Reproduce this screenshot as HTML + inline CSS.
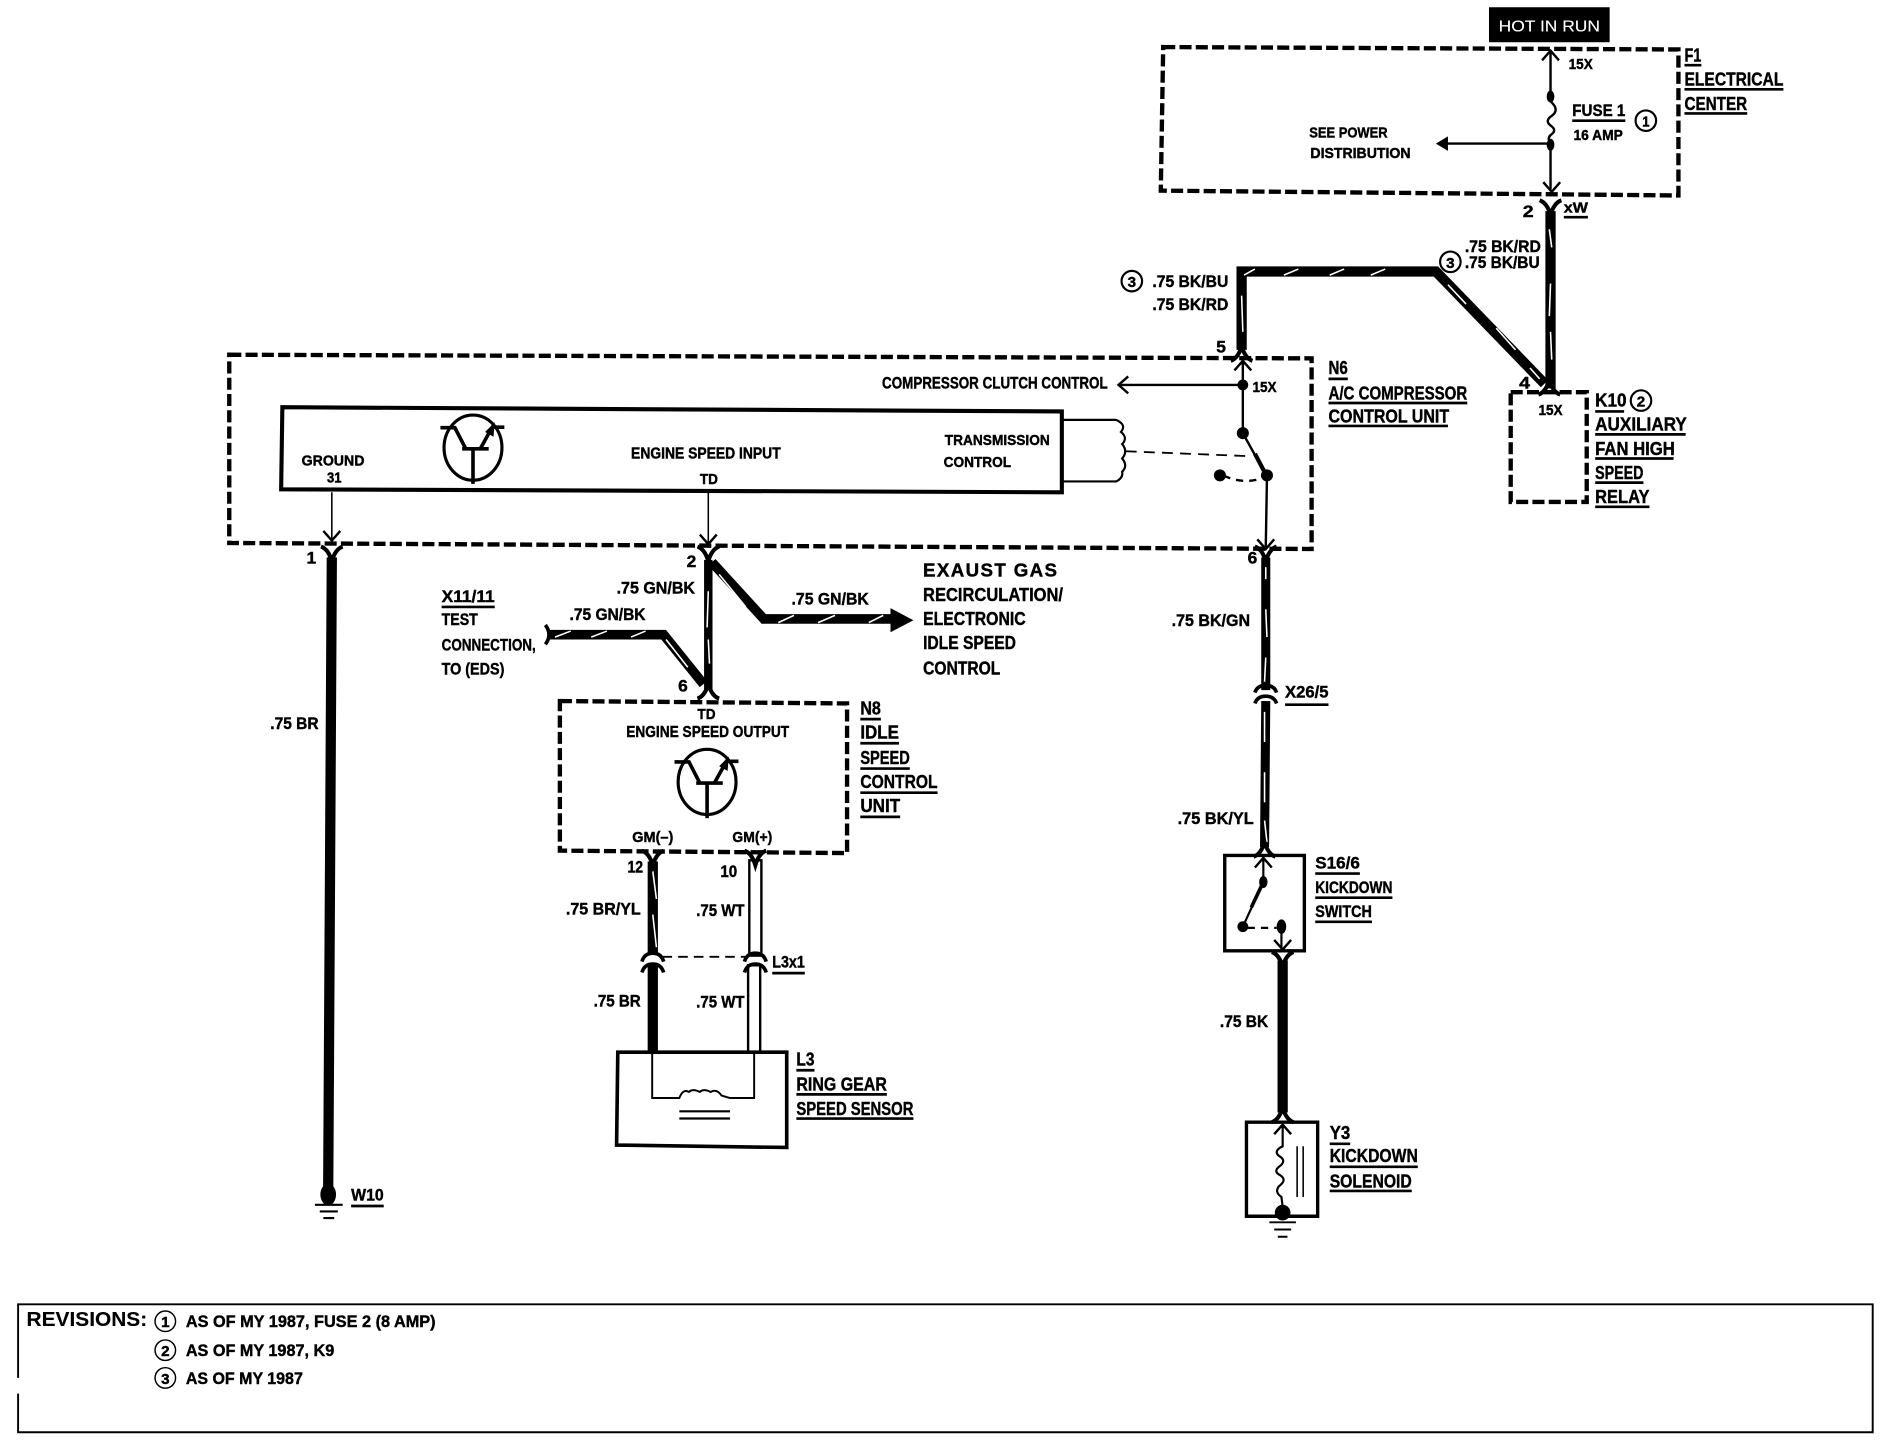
<!DOCTYPE html>
<html><head><meta charset="utf-8"><style>
html,body{margin:0;padding:0;background:#fff}
svg{display:block;width:1892px;height:1456px}
text{font-family:"Liberation Sans",sans-serif;font-weight:bold;fill:#000;stroke:#000;stroke-width:.35;font-size:14px}
.s{font-size:12px}.m{font-size:14px}.l{font-size:15.5px}
.t{fill:none;stroke:#000;stroke-width:2}
.d{fill:none;stroke:#000;stroke-width:3.6;stroke-dasharray:10 3.5}
.w{fill:none;stroke:#000;stroke-width:8.5;stroke-linejoin:miter}
.tr{fill:none;stroke:#fff;stroke-width:1.3}
.u{stroke:#000;stroke-width:2.2}
.c{fill:#fff;stroke:#000;stroke-width:1.8}
</style></head><body>
<svg xmlns="http://www.w3.org/2000/svg" viewBox="0 0 1568 1206.7" preserveAspectRatio="none">
<defs>
<path id="yd" d="M-9,-7 Q-3,-5 0,5 Q3,-5 9,-7" fill="none" stroke="#000" stroke-width="3.4"/>
<path id="yu" d="M-9,7 Q-3,5 0,-5 Q3,5 9,7" fill="none" stroke="#000" stroke-width="3.4"/>
<path id="chu" d="M-7,8 L0,0 L7,8 M0,0 V3" fill="none" stroke="#000" stroke-width="2"/>
<path id="chd" d="M-7,-8 L0,0 L7,-8" fill="none" stroke="#000" stroke-width="2"/>
<g id="tx">
<ellipse cx="392" cy="371" rx="24" ry="27" fill="none" stroke="#000" stroke-width="2.6"/>
<path d="M365,354.500 H377 L386,372 M383,372 H405 M392,372 V401 M398,372 L408,354 M407,354 H418" fill="none" stroke="#000" stroke-width="3"/>
<path d="M410,350 L402,358 L409,362 Z" fill="#000"/>
</g>
</defs>

<!-- F1 -->
<rect x="1234" y="6" width="100" height="29" fill="#000"/>
<text x="1242" y="26" textLength="84" lengthAdjust="spacingAndGlyphs" style="fill:#fff;stroke:#fff;stroke-width:.1;font-weight:normal;font-size:13px">HOT IN RUN</text>
<path class="d" d="M964,39 L1391,41 L1391,162 L962,158 Z"/>
<path class="t" d="M1285,42 V80 M1285,120 V157"/>
<use href="#chu" x="1285" y="42"/><use href="#chd" x="1286" y="159"/>
<ellipse cx="1285" cy="80" rx="3.200" ry="5" fill="#000"/><ellipse cx="1285" cy="120" rx="3.200" ry="5" fill="#000"/>
<path class="t" d="M1285,84 Q1293,91 1286,96 Q1280,100 1285,104 Q1291,108 1285,112 Q1282,115 1285,118"/>
<path class="t" d="M1285,119 H1198"/><path d="M1190,119 L1200,113 V125 Z" fill="#000"/>
<text class="m" x="1300" y="57" textLength="20" lengthAdjust="spacingAndGlyphs" style="font-size:12px">15X</text>
<text class="m" x="1303" y="96" textLength="44" lengthAdjust="spacingAndGlyphs">FUSE 1</text><line class="u" x1="1303" y1="100" x2="1347" y2="100"/>
<text class="s" x="1304" y="116" textLength="41" lengthAdjust="spacingAndGlyphs">16 AMP</text>
<circle class="c" cx="1364" cy="100" r="8.500"/><text class="s" x="1361" y="105" textLength="6" lengthAdjust="spacingAndGlyphs">1</text>
<text class="s" x="1085" y="114" textLength="65" lengthAdjust="spacingAndGlyphs">SEE POWER</text>
<text class="s" x="1086" y="131" textLength="83" lengthAdjust="spacingAndGlyphs">DISTRIBUTION</text>
<text class="l" x="1396" y="51" textLength="14" lengthAdjust="spacingAndGlyphs">F1</text><line class="u" x1="1396" y1="54" x2="1410" y2="54"/>
<text class="l" x="1396" y="71" textLength="82" lengthAdjust="spacingAndGlyphs">ELECTRICAL</text><line class="u" x1="1396" y1="74" x2="1478" y2="74"/>
<text class="l" x="1396" y="91" textLength="52" lengthAdjust="spacingAndGlyphs">CENTER</text><line class="u" x1="1396" y1="94" x2="1448" y2="94"/>

<!-- wires top right -->
<path class="w" d="M1285,175 V322"/>
<use href="#yd" x="1285" y="173"/>
<path class="tr" d="M1284,190 L1286,205 M1285,235 L1284,262 M1285,275 L1286,298"/>
<text class="m" x="1262" y="180" textLength="9" lengthAdjust="spacingAndGlyphs">2</text>
<text class="s" x="1296" y="176" textLength="20" lengthAdjust="spacingAndGlyphs">xW</text><line class="u" x1="1296" y1="180" x2="1316" y2="180"/>
<path class="w" d="M1029,290 V225 H1190 L1280,318"/>
<use href="#yu" x="1029" y="292"/><use href="#yu" x="1284" y="320"/>
<path class="tr" d="M1031,228 L1040,223 M1064,228 L1076,223 M1102,228 L1114,223 M1136,228 L1148,223 M1200,236 L1215,252 M1240,272 L1256,290 M1268,305 L1276,314 M1029,245 L1030,275"/>
<text class="m" x="1214" y="209" textLength="63" lengthAdjust="spacingAndGlyphs">.75 BK/RD</text>
<text class="m" x="1214" y="222" textLength="62" lengthAdjust="spacingAndGlyphs">.75 BK/BU</text>
<circle class="c" cx="1202" cy="217" r="8.500"/><text class="s" x="1198.500" y="222" textLength="7" lengthAdjust="spacingAndGlyphs">3</text>
<circle class="c" cx="938" cy="233" r="8.500"/><text class="s" x="934.500" y="238" textLength="7" lengthAdjust="spacingAndGlyphs">3</text>
<text class="m" x="955" y="238" textLength="63" lengthAdjust="spacingAndGlyphs">.75 BK/BU</text>
<text class="m" x="955" y="257" textLength="63" lengthAdjust="spacingAndGlyphs">.75 BK/RD</text>
<text class="m" x="1008" y="292" textLength="8" lengthAdjust="spacingAndGlyphs">5</text>

<!-- K10 -->
<path class="d" d="M1252,325 H1315 V416 H1252 Z"/>
<text class="m" x="1259" y="322" textLength="9" lengthAdjust="spacingAndGlyphs">4</text>
<text class="s" x="1275" y="344" textLength="20" lengthAdjust="spacingAndGlyphs">15X</text>
<text class="l" x="1322" y="337" textLength="26" lengthAdjust="spacingAndGlyphs">K10</text><line class="u" x1="1322" y1="341" x2="1346" y2="341"/>
<circle class="c" cx="1360" cy="332" r="8.500"/><text class="s" x="1356.500" y="337" textLength="7" lengthAdjust="spacingAndGlyphs">2</text>
<text class="l" x="1322" y="357" textLength="76" lengthAdjust="spacingAndGlyphs">AUXILIARY</text><line class="u" x1="1322" y1="360" x2="1397" y2="360"/>
<text class="l" x="1322" y="377" textLength="66" lengthAdjust="spacingAndGlyphs">FAN HIGH</text><line class="u" x1="1322" y1="380" x2="1387" y2="380"/>
<text class="l" x="1322" y="397" textLength="40" lengthAdjust="spacingAndGlyphs">SPEED</text><line class="u" x1="1322" y1="400" x2="1362" y2="400"/>
<text class="l" x="1322" y="417" textLength="45" lengthAdjust="spacingAndGlyphs">RELAY</text><line class="u" x1="1322" y1="420" x2="1367" y2="420"/>

<!-- N6 -->
<path class="d" d="M190,294 L1087,297 L1087,455 L190,450 Z"/>
<path d="M234,337.500 L880,341 L880,408 L233,405.500 Z" fill="none" stroke="#000" stroke-width="3.400"/>
<use href="#tx"/>
<text class="s" x="250" y="386" textLength="52" lengthAdjust="spacingAndGlyphs">GROUND</text>
<text class="s" x="271" y="400" textLength="12" lengthAdjust="spacingAndGlyphs">31</text>
<text class="m" x="523" y="380" textLength="124" lengthAdjust="spacingAndGlyphs" style="font-size:13px">ENGINE SPEED INPUT</text>
<text class="s" x="580" y="401" textLength="15" lengthAdjust="spacingAndGlyphs">TD</text>
<text class="s" x="783" y="369" textLength="87" lengthAdjust="spacingAndGlyphs">TRANSMISSION</text>
<text class="s" x="782" y="387" textLength="56" lengthAdjust="spacingAndGlyphs">CONTROL</text>
<path class="t" d="M275,408 V447 M587,408 V450" style="stroke-width:1.300"/>
<use href="#chd" x="275" y="448"/><use href="#chd" x="587" y="451"/>
<path class="t" d="M881,348 H925 Q934,352 929,358 Q935,363 930,368 Q935,374 930,380 Q935,386 930,391 Q931,396 925,399 H881" style="stroke-width:1.800"/>
<path d="M933,374 L1034,378" fill="none" stroke="#000" stroke-width="1.500" stroke-dasharray="9 6"/>
<text class="m" x="731" y="322" textLength="187" lengthAdjust="spacingAndGlyphs" style="font-size:13.500px">COMPRESSOR CLUTCH CONTROL</text>
<path class="t" d="M1030,298 V359 M1030,319 H928 M1030,359 L1050,395 M1050,395 L1049,454"/>
<path d="M1040,376 L1050,395" stroke="#000" stroke-width="3.500"/>
<use href="#chu" x="1030" y="299"/>
<path d="M935,312 L927,319 L935,326" fill="none" stroke="#000" stroke-width="2"/>
<use href="#chd" x="1049" y="455"/>
<circle cx="1030" cy="319" r="4.500"/><circle cx="1030" cy="359" r="5"/><circle cx="1050" cy="394" r="5"/>
<circle cx="1011" cy="394" r="5"/>
<path d="M1014,394 Q1030,402 1047,396" fill="none" stroke="#000" stroke-width="2" stroke-dasharray="6 5"/>
<text class="s" x="1038" y="325" textLength="20" lengthAdjust="spacingAndGlyphs">15X</text>
<text class="l" x="1101" y="310" textLength="16" lengthAdjust="spacingAndGlyphs">N6</text><line class="u" x1="1101" y1="314" x2="1117" y2="314"/>
<text class="l" x="1101" y="331" textLength="115" lengthAdjust="spacingAndGlyphs">A/C COMPRESSOR</text><line class="u" x1="1101" y1="334" x2="1216" y2="334"/>
<text class="l" x="1101" y="350" textLength="100" lengthAdjust="spacingAndGlyphs">CONTROL UNIT</text><line class="u" x1="1101" y1="353" x2="1200" y2="353"/>

<!-- ground wire -->
<path class="w" d="M275,462 L272,985"/>
<use href="#yd" x="275" y="460"/>
<text class="m" x="254" y="467" textLength="8" lengthAdjust="spacingAndGlyphs">1</text>
<text class="m" x="224" y="604" textLength="40" lengthAdjust="spacingAndGlyphs">.75 BR</text>
<ellipse cx="272" cy="990" rx="6.500" ry="9"/>
<path d="M261,998.500 H284 M265,1004 H280 M268,1009.500 H277" stroke="#000" stroke-width="1.800"/>
<text class="m" x="291" y="995" textLength="27" lengthAdjust="spacingAndGlyphs">W10</text><line class="u" x1="291" y1="999.500" x2="318" y2="999.500"/>

<!-- center wires -->
<path class="w" d="M587,464 V572" style="stroke-width:7"/>
<use href="#yd" x="587" y="460"/><use href="#yu" x="587" y="572"/>
<path class="w" d="M590,466 L633,513 H740" style="stroke-width:8"/>
<path d="M757,514 L738,504 V524 Z" fill="#000"/>
<path class="tr" d="M596,476 L618,503 M645,516 L658,510 M678,516 L692,510 M720,516 L732,510 M587,490 L586,520 M587,530 L588,550"/>
<path class="w" d="M455,526 H550 L583,567" style="stroke-width:8"/>
<path d="M452,518 Q458,526 452,534" fill="none" stroke="#000" stroke-width="3"/>
<path class="tr" d="M460,528 L473,523 M490,528 L503,523 M523,528 L535,523 M552,530 L570,553"/>
<text class="m" x="511" y="492" textLength="65" lengthAdjust="spacingAndGlyphs">.75 GN/BK</text>
<text class="m" x="472" y="514" textLength="63" lengthAdjust="spacingAndGlyphs">.75 GN/BK</text>
<text class="m" x="656" y="501" textLength="64" lengthAdjust="spacingAndGlyphs">.75 GN/BK</text>
<text class="m" x="569" y="470" textLength="8" lengthAdjust="spacingAndGlyphs">2</text>
<text class="m" x="562" y="573" textLength="8" lengthAdjust="spacingAndGlyphs">6</text>
<text class="l" x="366" y="499" textLength="44" lengthAdjust="spacingAndGlyphs" style="font-size:14px">X11/11</text><line class="u" x1="366" y1="503" x2="410" y2="503"/>
<text class="m" x="366" y="518" textLength="30" lengthAdjust="spacingAndGlyphs">TEST</text>
<text class="m" x="366" y="539" textLength="78" lengthAdjust="spacingAndGlyphs">CONNECTION,</text>
<text class="m" x="366" y="559" textLength="52" lengthAdjust="spacingAndGlyphs">TO (EDS)</text>
<text class="l" x="765" y="478" textLength="111" lengthAdjust="spacing">EXAUST GAS</text>
<text class="l" x="765" y="498" textLength="116" lengthAdjust="spacingAndGlyphs">RECIRCULATION/</text>
<text class="l" x="765" y="518" textLength="85" lengthAdjust="spacingAndGlyphs">ELECTRONIC</text>
<text class="l" x="765" y="538" textLength="77" lengthAdjust="spacingAndGlyphs">IDLE SPEED</text>
<text class="l" x="765" y="559" textLength="64" lengthAdjust="spacingAndGlyphs">CONTROL</text>

<!-- N8 -->
<path class="d" d="M464,581 L702,583 L702,707 L464,705 Z"/>
<text class="s" x="578" y="596" textLength="15" lengthAdjust="spacingAndGlyphs">TD</text>
<text class="m" x="519" y="611" textLength="135" lengthAdjust="spacingAndGlyphs" style="font-size:13px">ENGINE SPEED OUTPUT</text>
<use href="#tx" x="194" y="277"/>
<text class="s" x="524" y="698" textLength="34" lengthAdjust="spacingAndGlyphs">GM(–)</text>
<text class="s" x="607" y="698" textLength="33" lengthAdjust="spacingAndGlyphs">GM(+)</text>
<text class="l" x="713" y="592" textLength="17" lengthAdjust="spacingAndGlyphs">N8</text><line class="u" x1="713" y1="596" x2="730" y2="596"/>
<text class="l" x="713" y="612" textLength="32" lengthAdjust="spacingAndGlyphs">IDLE</text><line class="u" x1="713" y1="616" x2="745" y2="616"/>
<text class="l" x="713" y="633" textLength="41" lengthAdjust="spacingAndGlyphs">SPEED</text><line class="u" x1="713" y1="637" x2="754" y2="637"/>
<text class="l" x="713" y="653" textLength="64" lengthAdjust="spacingAndGlyphs">CONTROL</text><line class="u" x1="713" y1="657" x2="777" y2="657"/>
<text class="l" x="713" y="673" textLength="33" lengthAdjust="spacingAndGlyphs">UNIT</text><line class="u" x1="713" y1="677" x2="746" y2="677"/>

<!-- lower wires L3 -->
<path class="w" d="M541,714 V790 M541,798 V873"/>
<path class="tr" d="M541,722 L544,745 M541,758 L544,785"/>
<rect x="621" y="713" width="10" height="79" fill="#fff" stroke="#000" stroke-width="2"/>
<rect x="620" y="800" width="10" height="73" fill="#fff" stroke="#000" stroke-width="2"/>
<use href="#yd" x="541" y="712"/><use href="#yd" x="626" y="712"/>
<path d="M532,797 Q534,790 541,790 Q548,790 550,797 M617,797 Q619,790 626,790 Q633,790 635,797 M532,806 Q534,799 541,799 Q548,799 550,806 M617,806 Q619,799 626,799 Q633,799 635,806" fill="none" stroke="#000" stroke-width="3"/>
<path d="M549,793 H618" stroke="#000" stroke-width="1.500" stroke-dasharray="8 5"/>
<text class="m" x="520" y="723" textLength="13" lengthAdjust="spacingAndGlyphs">12</text>
<text class="m" x="597" y="727" textLength="14" lengthAdjust="spacingAndGlyphs">10</text>
<text class="m" x="469" y="758" textLength="62" lengthAdjust="spacingAndGlyphs">.75 BR/YL</text>
<text class="m" x="577" y="759" textLength="40" lengthAdjust="spacingAndGlyphs">.75 WT</text>
<text class="m" x="492" y="834" textLength="39" lengthAdjust="spacingAndGlyphs">.75 BR</text>
<text class="m" x="577" y="835" textLength="40" lengthAdjust="spacingAndGlyphs">.75 WT</text>
<text class="m" x="640" y="802" textLength="27" lengthAdjust="spacingAndGlyphs">L3x1</text><line class="u" x1="640" y1="806.500" x2="667" y2="806.500"/>
<path d="M512,872 H652 V951 L511,949 Z" fill="#fff" stroke="#000" stroke-width="3"/>
<path class="t" d="M540.500,873 V910 H563 Q566,902 571,905 Q574,902 580,905 Q583,902 589,905 Q594,902 598,908 L605,910 H625 V873" style="stroke-width:1.600"/>
<path d="M563,921 H605 M563,927 H605" stroke="#000" stroke-width="1.800"/>
<text class="l" x="660" y="883" textLength="15" lengthAdjust="spacingAndGlyphs">L3</text><line class="u" x1="660" y1="887" x2="675" y2="887"/>
<text class="l" x="660" y="904" textLength="75" lengthAdjust="spacingAndGlyphs">RING GEAR</text><line class="u" x1="660" y1="907" x2="735" y2="907"/>
<text class="l" x="660" y="924" textLength="97" lengthAdjust="spacingAndGlyphs">SPEED SENSOR</text><line class="u" x1="660" y1="927" x2="757" y2="927"/>

<!-- right column -->
<path class="w" d="M1049,462 V572 M1049,581 L1048,702" style="stroke-width:7.500"/>
<use href="#yd" x="1049" y="460"/>
<path class="tr" d="M1049,470 V480 M1049,505 L1050,528 M1049,545 L1048,565 M1048,590 V615 M1048,640 V665 M1048,680 L1050,698"/>
<path d="M1040,574 Q1042,568 1049,568 Q1056,568 1058,574 M1040,583 Q1042,577 1049,577 Q1056,577 1058,583" fill="none" stroke="#000" stroke-width="3"/>
<use href="#yu" x="1048" y="703"/>
<text class="m" x="971" y="519" textLength="65" lengthAdjust="spacingAndGlyphs">.75 BK/GN</text>
<text class="m" x="1065" y="578" textLength="36" lengthAdjust="spacingAndGlyphs">X26/5</text><line class="u" x1="1065" y1="584" x2="1101" y2="584"/>
<text class="m" x="976" y="683" textLength="63" lengthAdjust="spacingAndGlyphs">.75 BK/YL</text>
<text class="m" x="1034" y="467" textLength="8" lengthAdjust="spacingAndGlyphs">6</text>
<path d="M1015,709 H1081 V788 H1015 Z" fill="none" stroke="#000" stroke-width="2.800"/>
<use href="#chu" x="1047" y="711"/>
<path class="t" d="M1047,712 V731 M1047,731 L1030,768 M1062,768 V786" style="stroke-width:1.800"/>
<path d="M1047,731 L1037,752" stroke="#000" stroke-width="3"/>
<use href="#chd" x="1063" y="787"/>
<ellipse cx="1047" cy="731" rx="3.500" ry="5"/><circle cx="1030" cy="768" r="4.500"/><ellipse cx="1062" cy="768" rx="4" ry="6"/>
<path d="M1034,769 H1058" stroke="#000" stroke-width="1.800" stroke-dasharray="6 5"/>
<text class="m" x="1090" y="720" textLength="37" lengthAdjust="spacingAndGlyphs">S16/6</text><line class="u" x1="1090" y1="724" x2="1127" y2="724"/>
<text class="m" x="1090" y="740" textLength="64" lengthAdjust="spacingAndGlyphs">KICKDOWN</text><line class="u" x1="1090" y1="744" x2="1154" y2="744"/>
<text class="m" x="1090" y="760" textLength="47" lengthAdjust="spacingAndGlyphs">SWITCH</text><line class="u" x1="1090" y1="764" x2="1137" y2="764"/>
<path class="w" d="M1063,796 V922"/>
<use href="#yd" x="1063" y="796"/><use href="#yu" x="1063" y="923"/>
<text class="m" x="1011" y="851" textLength="40" lengthAdjust="spacingAndGlyphs">.75 BK</text>
<path d="M1033,930 H1092 V1008 H1033 Z" fill="none" stroke="#000" stroke-width="2.800"/>
<use href="#chu" x="1063" y="932"/>
<path class="t" d="M1063,933 V950 Q1055,954 1060,958 Q1067,962 1060,967 Q1055,971 1061,974 Q1067,978 1060,983 Q1056,988 1062,992 L1063,1000" style="stroke-width:1.800"/>
<path d="M1075,950 V992 M1080,950 V992" stroke="#000" stroke-width="1.300"/>
<circle cx="1063" cy="1005" r="6.500"/>
<path d="M1052,1013 H1074 M1056,1019 H1070 M1059,1025 H1067" stroke="#000" stroke-width="1.600"/>
<text class="l" x="1102" y="944" textLength="17" lengthAdjust="spacingAndGlyphs">Y3</text><line class="u" x1="1102" y1="948" x2="1119" y2="948"/>
<text class="l" x="1102" y="963" textLength="73" lengthAdjust="spacingAndGlyphs">KICKDOWN</text><line class="u" x1="1102" y1="967" x2="1175" y2="967"/>
<text class="l" x="1102" y="984" textLength="68" lengthAdjust="spacingAndGlyphs">SOLENOID</text><line class="u" x1="1102" y1="987" x2="1170" y2="987"/>

<!-- revisions -->
<path d="M15,1142 V1081 H1552 V1187 H15 V1155" fill="none" stroke="#000" stroke-width="1.600"/>
<text x="22" y="1099" textLength="100" lengthAdjust="spacingAndGlyphs" style="font-size:17px;stroke-width:.1">REVISIONS:</text>
<circle class="c" cx="137" cy="1095" r="8.500" style="stroke-width:1.200"/><text class="s" x="133.500" y="1100" textLength="7" lengthAdjust="spacingAndGlyphs">1</text>
<text class="m" x="154" y="1100" textLength="207" lengthAdjust="spacingAndGlyphs">AS OF MY 1987, FUSE 2 (8 AMP)</text>
<circle class="c" cx="137" cy="1119" r="8.500" style="stroke-width:1.200"/><text class="s" x="133.500" y="1124" textLength="7" lengthAdjust="spacingAndGlyphs">2</text>
<text class="m" x="154" y="1124" textLength="123" lengthAdjust="spacingAndGlyphs">AS OF MY 1987, K9</text>
<circle class="c" cx="137" cy="1142" r="8.500" style="stroke-width:1.200"/><text class="s" x="133.500" y="1147" textLength="7" lengthAdjust="spacingAndGlyphs">3</text>
<text class="m" x="154" y="1147" textLength="97" lengthAdjust="spacingAndGlyphs">AS OF MY 1987</text>
</svg>
</body></html>
